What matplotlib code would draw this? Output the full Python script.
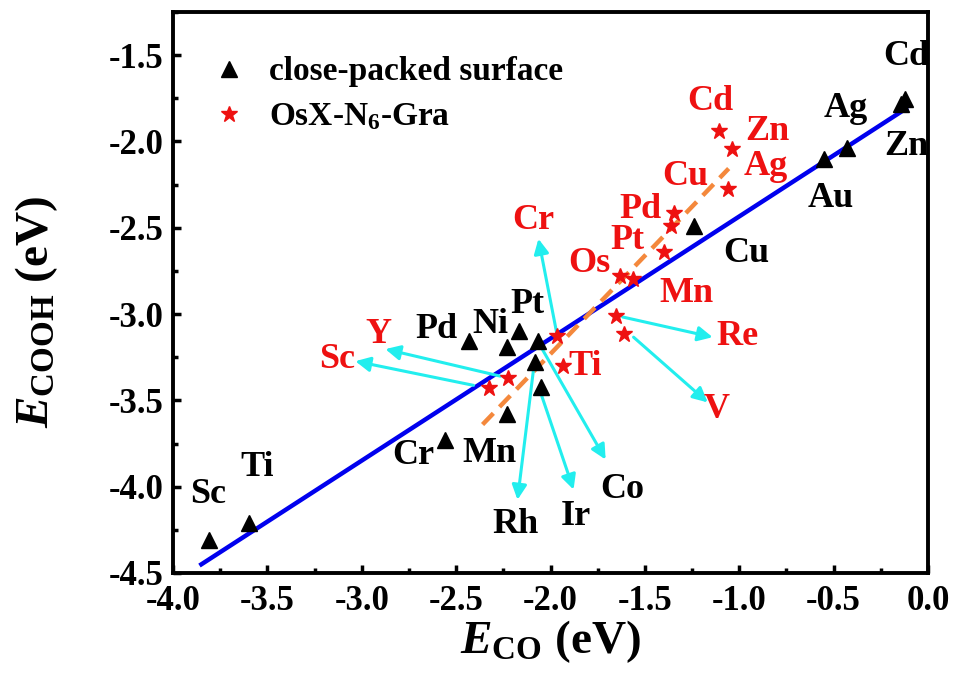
import matplotlib
matplotlib.use("Agg")
import matplotlib.pyplot as plt
from matplotlib.ticker import MultipleLocator

plt.rcParams['font.family'] = ['Liberation Serif', 'DejaVu Serif']
plt.rcParams['font.weight'] = 'bold'
plt.rcParams['axes.unicode_minus'] = False
plt.rcParams['mathtext.fontset'] = 'custom'
plt.rcParams['mathtext.rm'] = 'Liberation Serif:bold'
plt.rcParams['mathtext.bf'] = 'Liberation Serif:bold'
plt.rcParams['mathtext.it'] = 'Liberation Serif:italic:bold'

# close-packed surfaces (black triangles)
cp_names = ['Sc', 'Ti', 'Cr', 'Mn', 'Pd', 'Ni', 'Pt', 'Co', 'Rh', 'Ir', 'Cu', 'Au', 'Zn', 'Ag', 'Cd']
cp_eco = [-3.81, -3.60, -2.56, -2.23, -2.43, -2.23, -2.165, -2.064, -2.08, -2.053, -1.24, -0.55, -0.43, -0.145, -0.12]
cp_ecooh = [-4.31, -4.21, -3.73, -3.58, -3.157, -3.19, -3.10, -3.157, -3.28, -3.42, -2.49, -2.10, -2.04, -1.785, -1.755]
cp_lab_x = [-3.814, -3.554, -2.725, -2.323, -2.604, -2.318, -2.122, -1.618, -2.186, -1.867, -0.960, -0.515, -0.117, -0.435, -0.117]
cp_lab_y = [-4.047, -3.890, -3.820, -3.810, -3.087, -3.058, -2.942, -4.017, -4.221, -4.174, -2.651, -2.331, -2.029, -1.808, -1.506]

# OsX-N6-Gra (red stars)
os_names = ['Cd', 'Zn', 'Ag', 'Cu', 'Pd', 'Pt', 'Os', 'Mn', 'Re', 'V', 'Cr', 'Ti', 'Y', 'Sc']
os_eco = [-1.109, -1.040, -1.061, -1.347, -1.363, -1.400, -1.634, -1.565, -1.655, -1.613, -1.963, -1.936, -2.223, -2.324]
os_ecooh = [-1.942, -2.041, -2.273, -2.413, -2.488, -2.640, -2.779, -2.797, -3.012, -3.116, -3.128, -3.302, -3.372, -3.430]
os_lab_x = [-1.151, -0.849, -0.859, -1.284, -1.523, -1.592, -1.793, -1.279, -1.008, -1.119, -2.090, -1.814, -2.912, -3.130]
os_lab_y = [-1.767, -1.942, -2.148, -2.203, -2.395, -2.575, -2.709, -2.880, -3.130, -3.552, -2.459, -3.302, -3.116, -3.262]

# fitted lines
fit_cp_x = [-3.85, -0.117]
fit_cp_y = [-4.45, -1.81]
fit_os_x = [-2.36, -1.056]
fit_os_y = [-3.64, -2.157]

# cyan leader arrows: start -> tip
arr_x0 = [-1.968, -2.265, -2.408, -2.090, -2.053, -2.053, -1.618, -1.560]
arr_y0 = [-3.105, -3.360, -3.413, -3.320, -3.453, -3.186, -3.017, -3.134]
arr_x1 = [-2.064, -2.875, -3.034, -2.175, -1.878, -1.708, -1.141, -1.167]
arr_y1 = [-2.564, -3.203, -3.273, -4.076, -4.017, -3.843, -3.134, -3.512]

fig = plt.figure(figsize=(9.57, 6.93), dpi=100)
ax = fig.add_axes([0.1808, 0.1732, 0.7889, 0.8095])

ax.plot(fit_cp_x, fit_cp_y, color='#0000ee', lw=3.2, zorder=2)
ax.plot(fit_os_x, fit_os_y, color='#f4883c', lw=3.2, ls=(0, (3.5, 2)), zorder=2)

for i in range(len(arr_x0)):
    ax.annotate('', xy=(arr_x1[i], arr_y1[i]), xytext=(arr_x0[i], arr_y0[i]),
                arrowprops=dict(arrowstyle='-|>', color='#22eeee', lw=2.2,
                                mutation_scale=22, shrinkA=0, shrinkB=0), zorder=3)

ax.plot(cp_eco, cp_ecooh, '^', color='black', ms=11, ls='none', zorder=4,
        label='close-packed surface')
ax.plot(os_eco, os_ecooh, '*', color='#ee1111', ms=12, ls='none', zorder=4,
        label='OsX-N$_6$-Gra')

for n, x, y in zip(cp_names, cp_lab_x, cp_lab_y):
    ax.text(x, y, n, color='black', fontsize=26, ha='center', va='center', fontweight='bold')
for n, x, y in zip(os_names, os_lab_x, os_lab_y):
    ax.text(x, y, n, color='#ee1111', fontsize=26, ha='center', va='center', fontweight='bold')

ax.set_xlim(-4.0, 0.0)
ax.set_ylim(-4.5, -1.25)
ax.xaxis.set_major_locator(MultipleLocator(0.5))
ax.xaxis.set_minor_locator(MultipleLocator(0.25))
ax.yaxis.set_major_locator(MultipleLocator(0.5))
ax.yaxis.set_minor_locator(MultipleLocator(0.25))
ax.tick_params(which='both', direction='in', width=2.5, labelsize=25)
ax.tick_params(axis='x', pad=9)
ax.tick_params(axis='y', pad=7)
ax.tick_params(which='major', length=6)
ax.tick_params(which='minor', length=3.5)
for s in ax.spines.values():
    s.set_linewidth(2.8)

ax.set_xlabel('$E_{\\mathrm{CO}}$ (eV)', fontsize=34, fontweight='bold', labelpad=0)
ax.set_ylabel('$E_{\\mathrm{COOH}}$ (eV)', fontsize=34, fontweight='bold')
ax.yaxis.set_label_coords(-0.15, 0.465)

ax.legend(loc='upper left', bbox_to_anchor=(0.03, 0.945), frameon=False, fontsize=24,
          handlelength=1.2, handletextpad=0.6, labelspacing=0.42, borderaxespad=0)

fig.savefig('out.png', dpi=100)
